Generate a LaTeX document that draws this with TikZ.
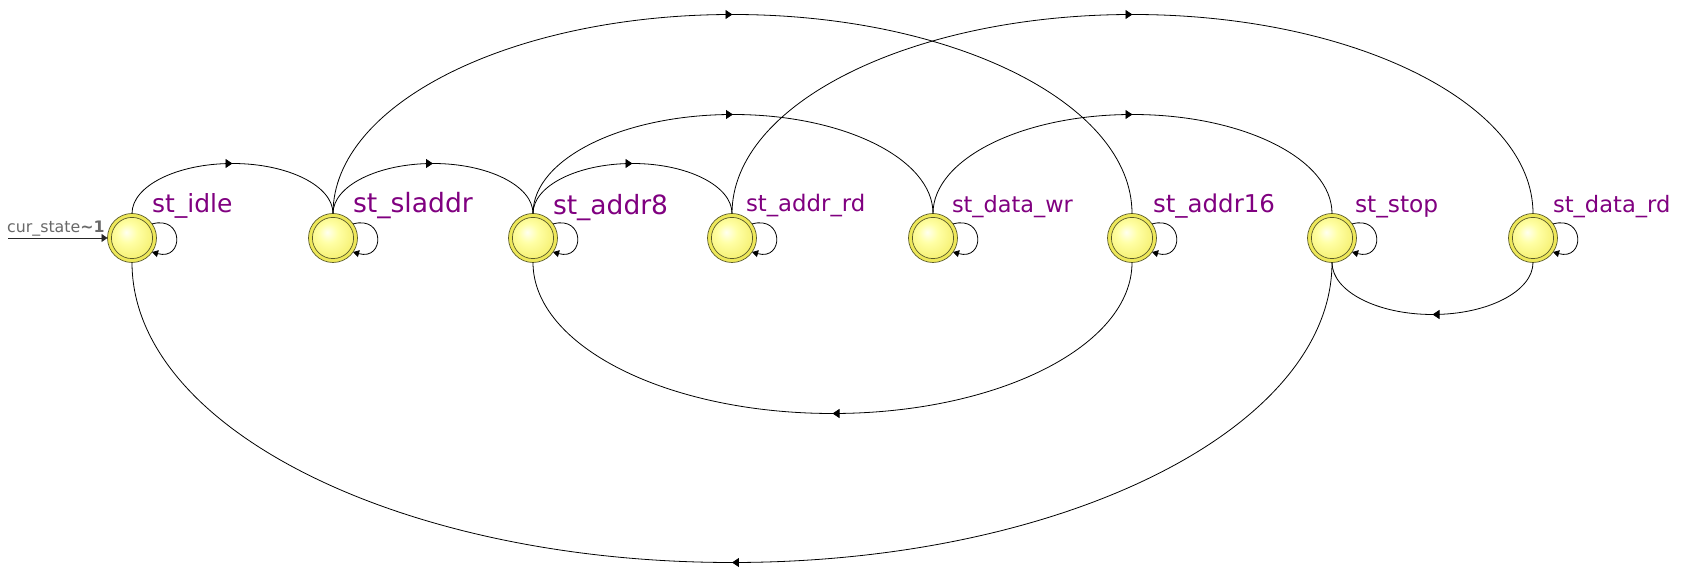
\documentclass[tikz,border=0pt]{standalone}
\usepackage{fontspec}
\setmainfont{DejaVu Sans}
\usetikzlibrary{arrows.meta,decorations.markings,calc}
\definecolor{lbl}{RGB}{128,0,128}
\definecolor{ringy}{RGB}{238,232,90}
\definecolor{filly}{RGB}{244,238,105}
\definecolor{ringline}{RGB}{90,90,40}
\definecolor{initgray}{RGB}{105,105,105}
\pgfdeclareradialshading{fsmshade}{\pgfpoint{-6bp}{6bp}}{color(0bp)=(yellow!6!white); color(10bp)=(yellow!35!white); color(28bp)=(filly); color(50bp)=(filly)}
\newcommand{\fsmtop}[4]{\draw[tr] (#1.north) .. controls +(0,0.5523*#4) and +(-0.5523*#3,0) .. ($(#1.north)!0.5!(#2.north)+(0,#4)$) .. controls +(0.5523*#3,0) and +(0,0.5523*#4) .. (#2.north);}
\newcommand{\fsmbot}[4]{\draw[tr] (#1.south) .. controls +(0,-0.5523*#4) and +(0.5523*#3,0) .. ($(#1.south)!0.5!(#2.south)+(0,-#4)$) .. controls +(-0.5523*#3,0) and +(0,-0.5523*#4) .. (#2.south);}
\newcommand{\fsmloop}[1]{\draw[loopst] (#1.35) .. controls +(32,9) and +(32,-9) .. (#1.-35);}
\begin{document}
\begin{tikzpicture}[x=1pt,y=1pt,
  fsm/.style={circle, minimum size=49pt, inner sep=0pt, outer sep=0pt,
    draw=ringline, line width=0.7pt, shading=fsmshade,
    path picture={
      \draw[ringy, line width=3.2pt] (path picture bounding box.center) circle (22.6pt);
      \draw[ringline, line width=0.7pt] (path picture bounding box.center) circle (20.6pt);}},
  lab/.style={anchor=base west, inner sep=0pt, outer sep=0pt, text=lbl},
  tr/.style={draw=black, line width=0.8pt, postaction={decorate},
    decoration={markings, mark=at position 0.5 with {\arrow{Triangle[length=7pt,width=9pt]}}}},
  loopst/.style={draw=black, line width=0.8pt, -{Triangle[length=6pt,width=7pt]}},
  initst/.style={draw=black!85, line width=0.9pt, -{Triangle[length=6pt,width=8pt]}}
]
\fill[white] (0,0) rectangle (1683,580);
\useasboundingbox (0,0) rectangle (1683,580);

\node[fsm] (idle)   at (132,342) {};
\node[fsm] (sladdr) at (333,342) {};
\node[fsm] (addr8)  at (533,342) {};
\node[fsm] (addrrd) at (732,342) {};
\node[fsm] (datawr) at (933,342) {};
\node[fsm] (addr16) at (1132,342) {};
\node[fsm] (stop)   at (1332,342) {};
\node[fsm] (datard) at (1533,342) {};

\node[lab, font=\fontsize{25}{30}\selectfont]   (lidle)   at (152,367) {st\_idle};
\node[lab, font=\fontsize{26.6}{32}\selectfont] (lsladdr) at (353,367) {st\_sladdr};
\node[lab, font=\fontsize{26.5}{32}\selectfont] (laddr8)  at (553,365) {st\_addr8};
\node[lab, font=\fontsize{22.8}{28}\selectfont] (laddrrd) at (746,368) {st\_addr\_rd};
\node[lab, font=\fontsize{22.4}{28}\selectfont] (ldatawr) at (952,367) {st\_data\_wr};
\node[lab, font=\fontsize{24.5}{30}\selectfont] (laddr16) at (1153,367) {st\_addr16};
\node[lab, font=\fontsize{23.3}{28}\selectfont] (lstop)   at (1355,367) {st\_stop};
\node[lab, font=\fontsize{22.6}{28}\selectfont] (ldatard) at (1553,367) {st\_data\_rd};

\coordinate (init) at (8,342);
\draw[initst] (init) -- (idle.west);
\node[anchor=base west, inner sep=0pt, text=initgray, font=\fontsize{15.8}{18}\selectfont] (linit) at (7,347) {cur\_state\textbf{\textasciitilde1}};

\fsmtop{idle}{sladdr}{100.5}{50}
\fsmtop{sladdr}{addr8}{100}{50}
\fsmtop{addr8}{addrrd}{99.5}{50}
\fsmtop{addr8}{datawr}{200}{99}
\fsmtop{datawr}{stop}{199.5}{99}
\fsmtop{sladdr}{addr16}{399.5}{199}
\fsmtop{addrrd}{datard}{400.5}{199}
\fsmbot{addr16}{addr8}{299.5}{151}
\fsmbot{stop}{idle}{600}{300}
\fsmbot{datard}{stop}{100.5}{52}

\fsmloop{idle}
\fsmloop{sladdr}
\fsmloop{addr8}
\fsmloop{addrrd}
\fsmloop{datawr}
\fsmloop{addr16}
\fsmloop{stop}
\fsmloop{datard}
\end{tikzpicture}
\end{document}
